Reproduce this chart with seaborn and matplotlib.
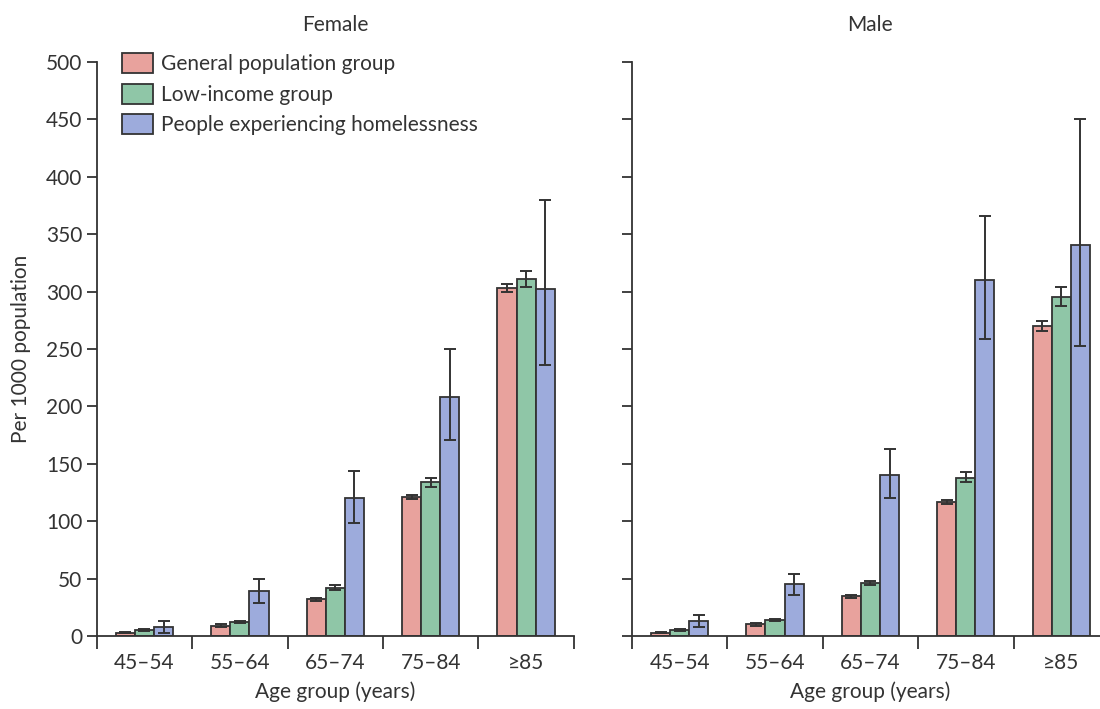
import pandas as pd
import numpy as np
import matplotlib.pyplot as plt
import seaborn as sns

# data (per 1000 population)
ages = ['45–54', '55–64', '65–74', '75–84', '≥85']
groups = ['General population group', 'Low-income group', 'People experiencing homelessness']
colors = ['#E8A29D', '#8FC6A7', '#9DABDC']

female_general = [3, 9, 32, 121, 303]
female_general_lo = [2.5, 8, 30.5, 119, 300]
female_general_hi = [3.5, 10, 33.5, 123, 306.5]
female_lowinc = [5, 12, 42, 134, 311]
female_lowinc_lo = [4, 11, 40, 130, 304]
female_lowinc_hi = [6, 13, 44, 138, 318]
female_homeless = [8, 39, 120, 208, 302]
female_homeless_lo = [3, 29, 98, 171, 236]
female_homeless_hi = [13, 50, 144, 250, 380]

male_general = [3, 10, 35, 117, 270]
male_general_lo = [2.5, 9, 33, 115, 266]
male_general_hi = [3.5, 11, 36, 118.5, 274]
male_lowinc = [5, 14, 46, 138, 295]
male_lowinc_lo = [4, 13, 44, 134, 287]
male_lowinc_hi = [6, 15, 48, 143, 304]
male_homeless = [13, 45, 140, 310, 341]
male_homeless_lo = [8, 36, 120, 259, 253]
male_homeless_hi = [18, 54, 163, 366, 450]

sns.set_style('white')
plt.rcParams['font.family'] = ['Lato', 'DejaVu Sans']
plt.rcParams['axes.edgecolor'] = '#333333'
plt.rcParams['xtick.color'] = '#333333'
plt.rcParams['ytick.color'] = '#333333'
plt.rcParams['text.color'] = '#333333'
plt.rcParams['axes.labelcolor'] = '#333333'

panels = {
    'Female': ([female_general, female_lowinc, female_homeless],
               [female_general_lo, female_lowinc_lo, female_homeless_lo],
               [female_general_hi, female_lowinc_hi, female_homeless_hi]),
    'Male': ([male_general, male_lowinc, male_homeless],
             [male_general_lo, male_lowinc_lo, male_homeless_lo],
             [male_general_hi, male_lowinc_hi, male_homeless_hi]),
}

fig = plt.figure(figsize=(11, 7.09), dpi=100)
ax1 = fig.add_axes([0.088, 0.103, 0.4336, 0.8096])
ax2 = fig.add_axes([0.5745, 0.103, 0.4336, 0.8096])

for ax, (sex, (vals, los, his)) in zip([ax1, ax2], panels.items()):
    rows = []
    for g, v in zip(groups, vals):
        for a, y in zip(ages, v):
            rows.append({'Age': a, 'Group': g, 'Value': y})
    df = pd.DataFrame(rows)
    sns.barplot(data=df, x='Age', y='Value', hue='Group', order=ages, hue_order=groups,
                palette=colors, width=0.6, errorbar=None, edgecolor='#333333',
                linewidth=1.3, saturation=1, ax=ax, legend=(sex == 'Female'))
    for cont, lo, hi in zip(ax.containers, los, his):
        xs = [b.get_x() + b.get_width() / 2 for b in cont]
        hts = [b.get_height() for b in cont]
        yerr = [np.array(hts) - np.array(lo), np.array(hi) - np.array(hts)]
        ax.errorbar(xs, hts, yerr=yerr, fmt='none', ecolor='#333333',
                    elinewidth=1.4, capsize=4.5, capthick=1.4, zorder=5)

    ax.set_ylim(0, 500)
    ax.set_xlim(-0.5, 4.5)
    ax.set_yticks(range(0, 501, 50))
    ax.set_xticks(np.arange(-0.5, 5, 1))
    ax.set_xticklabels([])
    ax.set_xticks(range(5), minor=True)
    ax.set_xticklabels(ages, minor=True, fontsize=15)
    ax.tick_params(axis='x', which='minor', length=0, pad=12)
    ax.tick_params(axis='both', which='major', length=7, width=1.3, direction='out',
                   labelsize=15)
    ax.tick_params(axis='x', which='major', length=9)
    ax.tick_params(left=True, bottom=True)
    for s in ['top', 'right']:
        ax.spines[s].set_visible(False)
    for s in ['left', 'bottom']:
        ax.spines[s].set_linewidth(1.3)
    ax.set_xlabel('Age group (years)', fontsize=15, labelpad=6)
    ax.set_title(sex, fontsize=15, pad=22)

ax1.set_ylabel('Per 1000 population', fontsize=15, labelpad=11)
ax2.set_ylabel('')
ax2.set_yticklabels([])

leg = ax1.legend(loc='upper left', bbox_to_anchor=(0.035, 1.03), frameon=False,
                 fontsize=15, handlelength=1.5, handleheight=1.1, labelspacing=0.45,
                 handletextpad=0.4, borderaxespad=0)
for h in leg.legend_handles:
    h.set_edgecolor('#333333')
    h.set_linewidth(1.3)

fig.savefig('out.png', dpi=100)
